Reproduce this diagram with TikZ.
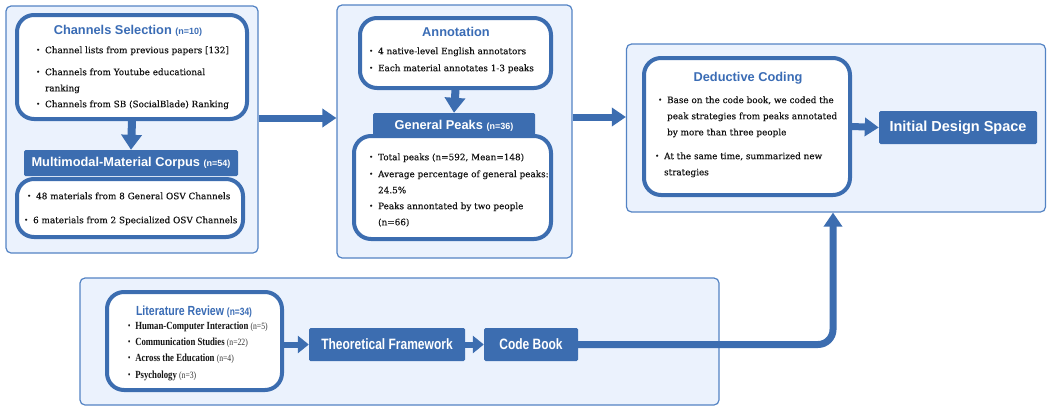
\documentclass[tikz,border=0pt]{standalone}
\usepackage{fontspec}
\setmainfont[FakeBold=0.25]{DejaVu Serif}
\newfontfamily\titlefont{Liberation Sans}
\newfontfamily\litfont{Liberation Serif}
\usetikzlibrary{arrows.meta}
\definecolor{mainblue}{HTML}{3C6DB0}
\definecolor{panelfill}{HTML}{EBF2FD}
\definecolor{panelborder}{HTML}{5383C4}
\definecolor{titleblue}{HTML}{3A6CB5}
\definecolor{bodytext}{HTML}{141414}
\definecolor{ntext}{HTML}{333333}
\newcommand{\bdot}{\raisebox{1pt}{\scalebox{0.75}{\textbullet}}}
\newcommand{\bitem}[1]{\renewcommand\arraystretch{1.4}\begin{tabular}[c]{@{}l@{\hspace{5pt}}l@{}}\bdot&#1\end{tabular}}
\newcommand{\nn}[1]{{\fontsize{9}{10}\selectfont #1}}
\newcommand{\litn}[1]{{\mdseries\color{ntext}\fontsize{9.6}{11}\selectfont #1}}
\newcommand{\cond}[1]{\scalebox{0.8}[1]{#1}}
\begin{document}
\begin{tikzpicture}[x=1pt,y=-1pt,
  panel/.style={draw=panelborder, fill=panelfill, line width=1.2pt, rounded corners=5pt, inner sep=0pt},
  wbox/.style={draw=mainblue, fill=white, line width=4pt, rounded corners=17pt, inner sep=0pt},
  hdr/.style={fill=mainblue, text=white, inner sep=0pt, rounded corners=1.5pt, font=\titlefont\bfseries\fontsize{12.8}{14}\selectfont},
  ttl/.style={text=titleblue, inner sep=0pt, font=\titlefont\bfseries\fontsize{12.8}{14}\selectfont},
  item/.style={anchor=west, inner sep=0pt, text=bodytext, font=\fontsize{8.85}{11.5}\selectfont, align=left},
  litem/.style={anchor=west, inner sep=0pt, text=bodytext, font=\litfont\bfseries\fontsize{10.9}{12}\selectfont},
  bigarrow/.style={draw=mainblue, line width=7pt, -{Triangle[length=14pt,width=18pt]}},
  downarrow/.style={draw=mainblue, line width=8pt, -{Triangle[length=15pt,width=20pt]}},
  smallarrow/.style={draw=mainblue, line width=6pt, -{Triangle[length=11pt,width=17pt]}}
]
\useasboundingbox (0,0) rectangle (1047,407);

% ---------- Panel 1 ----------
\node[panel, minimum width=252pt, minimum height=247pt] (p1) at (132,129.5) {};
\node[wbox, minimum width=230pt, minimum height=104pt] (cs) at (132,67) {};
\node[ttl] (cst) at (128,31) {Channels Selection \nn{(n=10)}};
\node[item] (cs1) at (36,50) {\bitem{Channel lists from previous papers [132]}};
\node[item] (cs2) at (36,80) {\bitem{Channels from Youtube educational\\ & ranking}};
\node[item] (cs3) at (36,104) {\bitem{Channels from SB (SocialBlade) Ranking}};
\node[hdr, minimum width=214pt, minimum height=26pt] (corp) at (131,163) {Multimodal-Material Corpus \nn{(n=54)}};
\node[wbox, minimum width=226pt, minimum height=58pt] (cb1) at (130,208) {};
\node[item] (co1) at (27,196) {\bitem{48 materials from 8 General OSV Channels}};
\node[item] (co2) at (24,220) {\bitem{6 materials from 2 Specialized OSV Channels}};
\draw[downarrow] (cs.south) -- (corp.north);

% ---------- Panel 2 ----------
\node[panel, minimum width=235pt, minimum height=253pt] (p2) at (454.5,131.5) {};
\node[wbox, minimum width=191pt, minimum height=70pt] (an) at (455.5,53) {};
\node[ttl] (ant) at (456,32) {Annotation};
\node[item] (an1) at (369,51) {\bitem{4 native-level English annotators}};
\node[item] (an2) at (369,68) {\bitem{Each material annotates 1-3 peaks}};
\node[hdr, minimum width=162pt, minimum height=25pt] (gp) at (454,125.5) {General Peaks \nn{(n=36)}};
\node[wbox, minimum width=197pt, minimum height=103pt] (gpb) at (452.5,187.5) {};
\node[item] (gp1) at (369,157) {\bitem{Total peaks (n=592, Mean=148)}};
\node[item] (gp2) at (369,182) {\bitem{Average percentage of general peaks:\\ & 24.5\%}};
\node[item] (gp3) at (369,214) {\bitem{Peaks annontated by two people\\ & (n=66)}};
\draw[downarrow] (an.south) -- (gp.north);

% ---------- Panel 3 ----------
\node[panel, minimum width=419pt, minimum height=168pt] (p3) at (836,128) {};
\node[wbox, minimum width=206pt, minimum height=137pt] (dc) at (747,126.5) {};
\node[ttl] (dct) at (748,78) {Deductive Coding};
\node[item] (dc1) at (658,116) {\bitem{Base on the code book, we coded the\\ & peak strategies from peaks annotated\\ & by more than three people}};
\node[item] (dc2) at (655,164) {\bitem{At the same time, summarized new\\ & strategies}};
\node[hdr, minimum width=158pt, minimum height=33pt, font=\titlefont\bfseries\fontsize{14.5}{16}\selectfont] (ids) at (958,127.5) {Initial Design Space};
\draw[bigarrow] (dc.east) -- (ids.west);

% ---------- Panel 4 ----------
\node[panel, minimum width=639pt, minimum height=127pt] (p4) at (399.5,341.5) {};
\node[wbox, minimum width=175pt, minimum height=98pt] (lr) at (194.5,341) {};
\node[ttl, font=\titlefont\bfseries\fontsize{13.2}{15}\selectfont] (lrt) at (194,312) {\cond{Literature Review \nn{\fontsize{10.5}{12}\selectfont(n=34)}}};
\node[litem] (lr1) at (128,327) {\cond{\bdot\hspace{6pt}Human-Computer Interaction \litn{(n=5)}}};
\node[litem] (lr2) at (128,343) {\cond{\bdot\hspace{6pt}Communication Studies \litn{(n=22)}}};
\node[litem] (lr3) at (128,359) {\cond{\bdot\hspace{6pt}Across the Education \litn{(n=4)}}};
\node[litem] (lr4) at (128,376) {\cond{\bdot\hspace{6pt}Psychology \litn{(n=3)}}};
\node[hdr, minimum width=156pt, minimum height=33pt, font=\titlefont\bfseries\fontsize{15}{17}\selectfont] (tf) at (387,344.5) {\cond{Theoretical Framework}};
\node[hdr, minimum width=94pt, minimum height=33pt, font=\titlefont\bfseries\fontsize{15}{17}\selectfont] (cbk) at (531,344.5) {\cond{Code Book}};
\draw[smallarrow] (lr.east |- tf.west) -- (tf.west);
\draw[smallarrow] (tf.east) -- (cbk.west);

% ---------- Panel connectors ----------
\coordinate (a12) at ([yshift=11.5pt]p1.east);
\draw[bigarrow] (a12) -- (a12 -| p2.west);
\coordinate (a23) at ([yshift=14.5pt]p2.east);
\draw[bigarrow] (a23) -- (a23 -| p3.west);
\coordinate (turn) at ([xshift=-3pt]p3.south |- cbk.east);
\draw[bigarrow, rounded corners=15pt] (cbk.east) -- (turn) -- ([xshift=-3pt]p3.south);
\end{tikzpicture}
\end{document}
